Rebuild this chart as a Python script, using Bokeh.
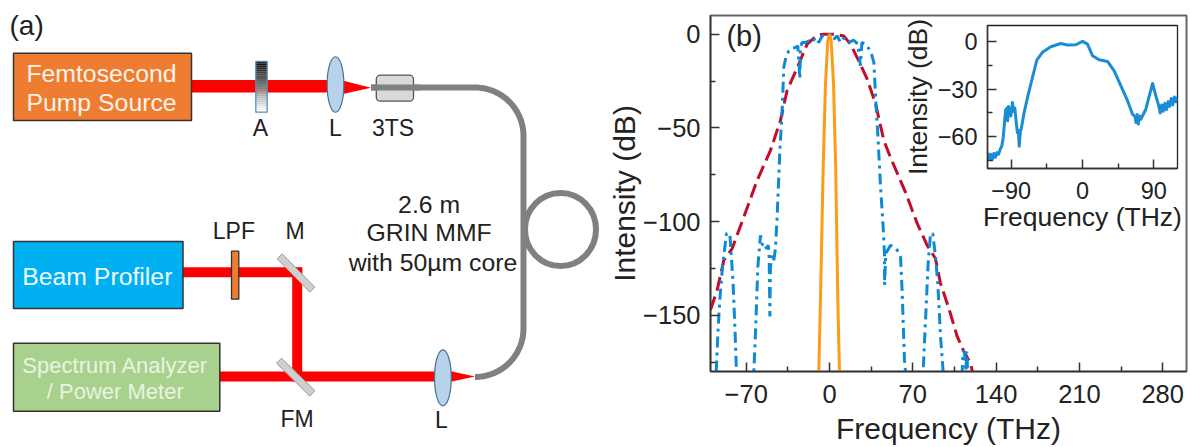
import numpy as np
from bokeh.plotting import figure
from bokeh.embed import file_html
from bokeh.resources import INLINE
from bokeh.models import FixedTicker, Range1d
from bokeh.core.properties import value

FONT = "Liberation Sans"

# ---------- chart data (THz, dB) ----------
blue_x = [-95.2,-93.8,-92.2,-89.9,-86.6,-83.8,-82.6,-81,-79.3,-78.2,-72,-66,-63.6,-62.2,-60.2,-58,-56.3,-54.6,-52.9,-51.5,-50.7,-50.1,-49.6,-48.2,-46.8,-45.4,-44,-41.7,-39.8,-38.4,-36.7,-34.2,-31.4,-28.6,-26.6,-24.9,-24.4,-23,-20.2,-17.4,-14.6,-11.8,-9,-6.2,-2,0.8,3.6,6.4,9.2,12,16.2,20.4,23.8,26,27.2,30.3,34.5,37.3,38.9,40.6,42.9,45.1,46.2,46.3,47.3,51.3,54.1,56.9,59.7,61.1,63,63.9,70,76,78.7,80.7,82.9,84.9,86.8,89.1,91,93.3,95.5,103,111.5,112.3,113.4,114.6,115.5,116,117]
blue_y = [-180,-159.6,-141.8,-124.1,-106.4,-106.4,-117,-133,-159.6,-180,-210,-210,-180,-159.6,-124,-107.3,-112.6,-111.7,-114.4,-112.6,-118.8,-150.7,-124,-118,-120.6,-114.4,-97.5,-62,-40.8,-17.7,-12.4,-8.9,-7.4,-7.1,-6.2,-23.9,-7.1,-4.4,-4.4,-3.5,-4.4,-1.8,-4.4,-0.9,-0.9,0,-2.7,-0.9,-4.4,-2.1,-4.4,-3.2,-5.3,-16.8,-4.4,-5.3,-8.9,-15,-35.5,-53.2,-81.6,-102.8,-117,-133.9,-117,-112.6,-113.5,-115.2,-118.8,-138.3,-173.8,-180,-210,-210,-180,-152.5,-122.3,-106.4,-106.4,-118.8,-133,-161.3,-180,-210,-180,-169.3,-169.3,-180,-169.3,-180,-180]
red_x = [-100,-94.4,-88.8,-81.8,-72,-60.8,-49.6,-41.2,-35.6,-27,-18.8,-10.4,-4.8,3.6,12,17.6,24.6,31.7,38.7,45.7,51.3,63.9,73.7,82,89,93.3,100.3,107.3,112.9,118.5,120]
red_y = [-147,-136.5,-120.6,-114.4,-97.5,-78,-62,-46,-30,-17.7,-5.3,-0.5,0,0,-0.9,-5.3,-14.2,-24,-37.2,-56.7,-65.8,-84.4,-101,-112.6,-119.7,-133,-146.3,-161.3,-169.3,-175.5,-180]
orange_x = [-9,-7.6,-5.3,-3.4,-1.4,0,1.4,3.4,5.2,7,8.4]
orange_y = [-180,-142,-71,-26.6,-3.5,0,-3.5,-26.6,-71,-142,-180]
inset_x = [-120,-118,-116,-114,-112,-110,-108,-106,-104,-102,-100,-98,-97,-95.5,-94.5,-93.5,-92.3,-90.5,-88.5,-87,-85.5,-83.5,-82.2,-81,-80,-78.5,-77,-73.7,-69.5,-63.2,-57.7,-50.6,-40,-27.4,-19,-8.4,0,6.3,12.6,21,31.6,40,48.5,57,63.2,66,67.5,69,70.5,72,73.7,80,88.5,92.7,96,98.2,100,102,104,106,108,110,112,114,116,118,120]
inset_y = [-70,-74,-71,-74.5,-70.5,-73,-70,-71,-68,-66,-60,-48,-43,-42,-50,-41,-43,-47,-38.5,-44,-42,-52,-57.5,-56,-66,-57,-54,-44.8,-35.4,-22.7,-11.8,-6.9,-3.4,-1.3,-2.3,-2.1,0,-1.7,-9,-11.6,-12.6,-18.5,-28,-37.5,-45.9,-47,-51,-46,-52,-47,-49,-42.7,-26.5,-34.3,-40,-45,-40,-44,-39,-43,-38,-41,-36,-40,-35,-38,-35]

main_ticks = [-70, 0, 70, 140, 210, 280]
main_minor = [-35, 35, 105, 175, 245]
main_yticks = [0, -50, -100, -150]
main_yminor = [-25, -75, -125, -175]
inset_ticks = [-90, 0, 90]
inset_minor = [-45, 45]
inset_yticks = [0, -30, -60]
inset_yminor = [-15, -45, -75]

def minus(v):
    return str(v).replace("-", "\u2212")

def style_axis(ax, ticks, minor, size, label, label_size, standoff, label_standoff):
    ax.ticker = FixedTicker(ticks=ticks, minor_ticks=minor)
    ax.major_label_overrides = {t: minus(t) for t in ticks}
    ax.major_label_text_font = FONT
    ax.major_label_text_font_size = size
    ax.major_label_text_color = "#222222"
    ax.major_label_standoff = standoff
    ax.axis_label = label
    ax.axis_label_text_font = FONT
    ax.axis_label_text_font_style = "normal"
    ax.axis_label_text_font_size = label_size
    ax.axis_label_text_color = "#222222"
    ax.axis_label_standoff = label_standoff
    ax.major_tick_in = 9
    ax.major_tick_out = 0
    ax.minor_tick_in = 5
    ax.minor_tick_out = 0
    ax.axis_line_color = "#333333"
    ax.axis_line_width = 1.5
    ax.major_tick_line_color = "#333333"
    ax.major_tick_line_width = 1.5
    ax.minor_tick_line_color = "#333333"
    ax.minor_tick_line_width = 1.5

# ---------- main spectrum panel ----------
m = figure(width=590, height=447, x_range=Range1d(-100, 300), y_range=Range1d(-180, 10),
           output_backend="svg", toolbar_location=None,
           min_border_left=110, min_border_right=4, min_border_top=15, min_border_bottom=76,
           styles={"position": "absolute", "left": "600px", "top": "0px"})
m.grid.visible = False
m.outline_line_color = "#666666"
m.outline_line_width = 2
style_axis(m.xaxis[0], main_ticks, main_minor, "25.5px", "Frequency (THz)", "30px", 13, 6)
style_axis(m.yaxis[0], main_yticks, main_yminor, "25.5px", "Intensity (dB)", "30px", 10, -1)
m.line(red_x, red_y, line_color="#c40c2c", line_width=3, line_dash="14 6")
m.line(blue_x, blue_y, line_color="#0d8ad6", line_width=3, line_dash="11 5 3 5")
m.line(orange_x, orange_y, line_color="#fb9c16", line_width=3)
m.text([-86.6], [-1], text=["(b)"], text_font=value(FONT), text_font_size="29px",
       text_baseline="middle", text_color="#222222")

# ---------- inset ----------
i = figure(width=295, height=228, x_range=Range1d(-120, 120), y_range=Range1d(-80, 10),
           output_backend="svg", toolbar_location=None,
           min_border_left=92, min_border_right=13, min_border_top=10, min_border_bottom=75,
           background_fill_color="white", border_fill_alpha=0,
           styles={"position": "absolute", "left": "895px", "top": "15px"})
i.grid.visible = False
i.outline_line_color = "#222222"
i.outline_line_width = 1.3
style_axis(i.xaxis[0], inset_ticks, inset_minor, "23.5px", "Frequency (THz)", "26.5px", 13, 0)
style_axis(i.yaxis[0], inset_yticks, inset_yminor, "23.5px", "Intensity (dB)", "26.5px", 10, 2)
i.line(inset_x, inset_y, line_color="#1b8dd4", line_width=3, line_join="round")

# ---------- schematic (a), drawn in page pixels ----------
d = figure(width=600, height=447, x_range=Range1d(0, 600), y_range=Range1d(447, 0),
           output_backend="svg", toolbar_location=None, min_border=0,
           outline_line_color=None,
           styles={"position": "absolute", "left": "0px", "top": "0px"})
d.axis.visible = False
d.grid.visible = False

RED = "#ff0000"
# fibre
t1 = np.linspace(-np.pi / 2, 0, 24)
t2 = np.linspace(0, np.pi / 2, 24)
fx = [370.5, 474.5] + list(474.5 + 48.5 * np.cos(t1)) + list(474.5 + 48.5 * np.cos(t2))
fy = [87, 87] + list(135.5 + 48.5 * np.sin(t1)) + list(328 + 48.5 * np.sin(t2))
d.line(fx, fy, line_color="#808080", line_width=6)
d.ellipse([560], [229], width=71, height=73, fill_color=None, line_color="#808080", line_width=6)
# beams
d.quad(left=[191, 182.5, 291.7, 219.3], right=[340, 301.7, 301.7, 445],
       top=[79.5, 266.7, 267, 371], bottom=[92, 276.7, 381, 381], fill_color=RED, line_color=None)
d.patch([340, 370.5, 340], [79.5, 87.3, 94], fill_color=RED, line_color=None)
d.patch([447, 474.5, 447], [370, 376, 382], fill_color=RED, line_color=None)
# instrument boxes
d.quad(left=[13], right=[191], top=[52.7], bottom=[120], fill_color="#ee7d31", line_color="#333333", line_width=1.5)
d.quad(left=[13], right=[182.5], top=[241], bottom=[308], fill_color="#00b0f0", line_color="#333333", line_width=1.5)
d.quad(left=[13], right=[219.3], top=[342.7], bottom=[410.7], fill_color="#a9d18e", line_color="#333333", line_width=1.5)
# attenuator
n = 26
ys = np.linspace(61, 111.7, n + 1)
shades = np.linspace(10, 255, n).astype(int)
d.quad(left=[255.3] * n, right=[266.7] * n, top=list(ys[:-1]), bottom=list(ys[1:]),
       fill_color=["#%02x%02x%02x" % (s, s, s) for s in shades], line_color=None)
d.quad(left=[255.3], right=[266.7], top=[61], bottom=[111.7], fill_color=None, line_color="#5b8db8", line_width=1.3)
# lenses
d.ellipse([335, 442.4], [84, 377.3], width=16.8, height=[55.5, 56], fill_color="#b9d2ec", line_color="#4a6f96", line_width=1.2)
# launch stage
d.quad(left=[375.8], right=[413], top=[74.7], bottom=[100.7], fill_color="#d9d9d9", line_color="#555555",
       line_width=1.3, border_radius=4)
d.line([370.5, 420], [87, 87], line_color="#808080", line_width=6)
# long-pass filter
d.quad(left=[231], right=[238.3], top=[250.7], bottom=[298.7], fill_color="#ed7d31", line_color="#333333", line_width=1.3)
# mirrors
d.patch([276.7, 281.7, 314.3, 309.3], [258.3, 253.3, 286.7, 291.7], fill_color="#cfcfcf", line_color="#999999", line_width=1)
d.patch([276, 281, 314.3, 309.3], [362.7, 357.7, 390, 395.7], fill_color="#cfcfcf", line_color="#999999", line_width=1)

def label(x, y, s, size, color="#222222", align="center"):
    d.text([x], [y], text=[s], text_font=value(FONT), text_font_size=size, text_color=color,
           text_align=align, text_baseline="middle")

label(9, 25, "(a)", "28px", align="left")
label(101, 72.7, "Femtosecond", "24.8px", "#fbf3ec")
label(101, 101.7, "Pump Source", "24.8px", "#fbf3ec")
label(96.8, 276, "Beam Profiler", "24.8px", "#effaff")
label(114.8, 365, "Spectrum Analyzer", "22px", "#e9f3e1")
label(114.8, 390.7, "/ Power Meter", "22px", "#e9f3e1")
label(260, 127, "A", "23px")
label(335, 127, "L", "23px")
label(392.6, 127, "3TS", "23px")
label(233.4, 230, "LPF", "23px")
label(294.7, 230, "M", "23px")
label(296.6, 418.7, "FM", "23px")
label(441, 419, "L", "23px")
label(428.6, 204.3, "2.6 m", "24.8px")
label(428.6, 231.7, "GRIN MMF", "24.8px")
label(432.5, 262.3, "with 50\u00b5m core", "24.8px")

open("out.html", "w").write(file_html([d, m, i], INLINE))
